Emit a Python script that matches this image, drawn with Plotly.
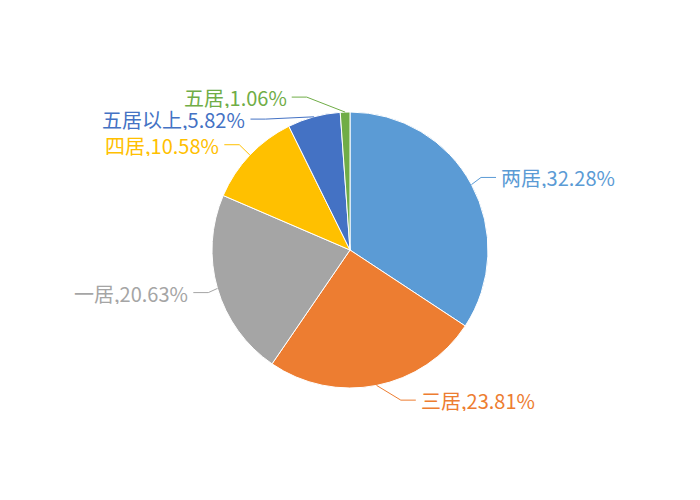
import math
import plotly.graph_objects as go

# 户型分布
labels = ["两居", "三居", "一居", "四居", "五居以上", "五居"]
shares = [32.28, 23.81, 20.63, 10.58, 5.82, 1.06]
colors = ["#5B9BD5", "#ED7D31", "#A5A5A5", "#FFC000", "#4472C4", "#70AD47"]

W, H = 700, 500
PAGE = 8                       # body margin of the html page
CX, CY, R = 350 - PAGE, 250 - PAGE, 138   # pie centre / radius in px
LINE1 = 15                     # radial part of the leader line
ELL_A, ELL_B = 147, 160        # ellipse the bend points sit on
LINE2 = 15                     # horizontal part
GAP = 22                       # min vertical gap between labels
FONT = "Noto Sans CJK SC, Microsoft YaHei, sans-serif"

fig = go.Figure()
fig.add_trace(go.Pie(
    labels=labels, values=shares, sort=False, direction="clockwise", rotation=0,
    marker=dict(colors=colors, line=dict(color="white", width=1)),
    textinfo="none", hoverinfo="label+value", showlegend=False,
    domain=dict(x=[(CX - R) / W, (CX + R) / W], y=[1 - (CY + R) / H, 1 - (CY - R) / H]),
))

# label layout (echarts-like: radial, then de-overlap, then onto an ellipse)
total = sum(shares)
items = []
acc = 0
for lab, v, c in zip(labels, shares, colors):
    th = 2 * math.pi * (acc + v / 2) / total
    acc += v
    dx, dy = math.sin(th), -math.cos(th)
    items.append(dict(text=f"{lab},{v:.2f}%", color=c, side=-1 if dx < 0 else 1,
                      ex=CX + R * dx, ey=CY + R * dy, y=CY + (R + LINE1) * dy))

for side in (-1, 1):
    grp = sorted([it for it in items if it["side"] == side], key=lambda it: it["y"])
    for a, b in zip(grp, grp[1:]):
        if b["y"] - a["y"] < GAP:
            b["y"] = a["y"] + GAP

px = lambda x: x / W
py = lambda y: 1 - y / H

for it in items:
    s = it["side"]
    k = max(0.0, 1 - ((it["y"] - CY) / ELL_B) ** 2)
    bx = CX + s * ELL_A * math.sqrt(k)
    tx = bx + s * LINE2
    fig.add_shape(type="path", xref="paper", yref="paper",
                  path=f"M {px(it['ex'])},{py(it['ey'])} L {px(bx)},{py(it['y'])} L {px(tx)},{py(it['y'])}",
                  line=dict(color=it["color"], width=1))
    fig.add_annotation(x=px(tx + s * 3), y=py(it["y"]), xref="paper", yref="paper",
                       text=it["text"], showarrow=False, height=22,
                       xanchor="left" if s > 0 else "right", yanchor="middle",
                       font=dict(size=20, color=it["color"], family=FONT))

fig.update_layout(
    width=W, height=H,
    margin=dict(l=0, r=0, t=0, b=0),
    paper_bgcolor="white", plot_bgcolor="white",
)

fig.write_html("out.html")
